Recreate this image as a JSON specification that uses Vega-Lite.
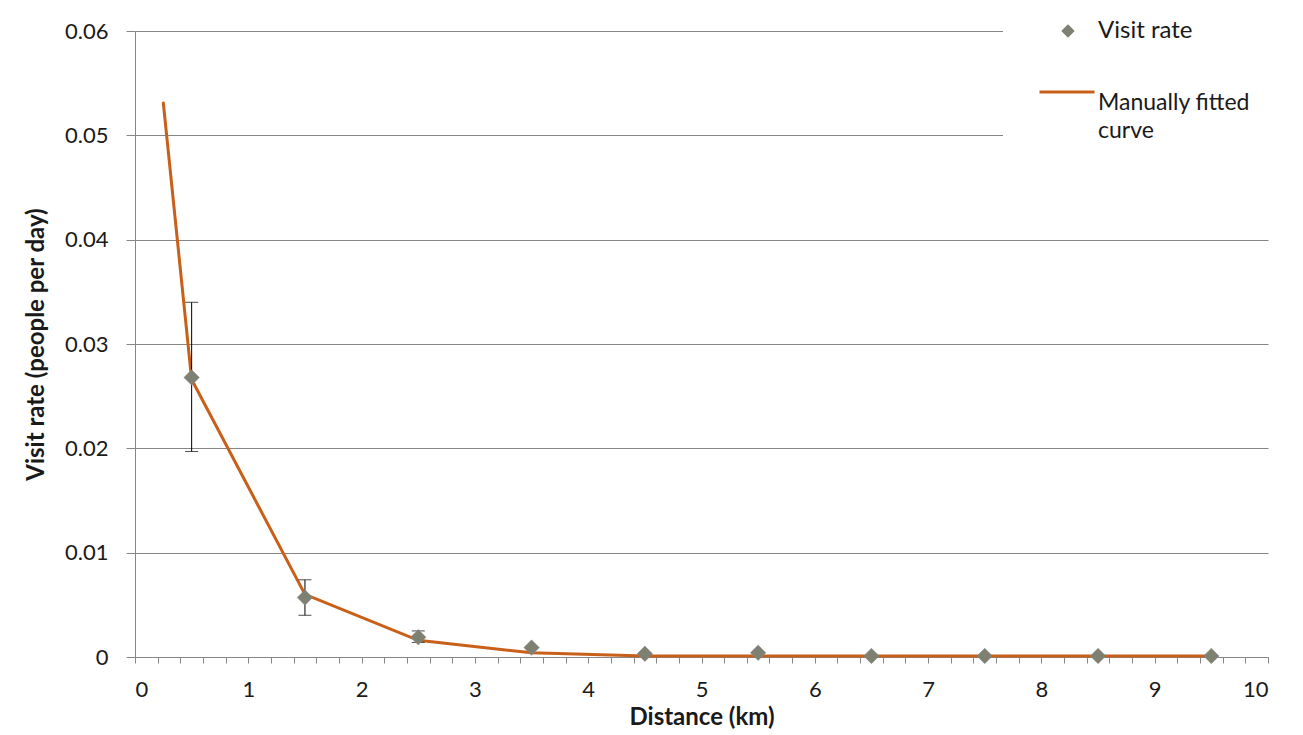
{
  "$schema": "https://vega.github.io/schema/vega-lite/v6.json",
  "width": 1133,
  "height": 626,
  "autosize": {"type": "none"},
  "padding": {"left": 135, "top": 31, "right": 35, "bottom": 78},
  "background": "white",
  "config": {
    "view": {"stroke": null},
    "font": "Lato",
    "style": {"guide-label": {"lineHeight": 28}},
    "axis": {
      "domainColor": "#868686",
      "tickColor": "#868686",
      "gridColor": "#868686",
      "labelColor": "#1a1a1a",
      "titleColor": "#1a1a1a",
      "labelFont": "Lato",
      "titleFont": "Lato",
      "labelFontSize": 22,
      "titleFontSize": 24,
      "titleFontWeight": "bold"
    }
  },
  "datasets": {
    "visits": [
      {"distance": 0.5, "rate": 0.0268, "lo": 0.0197, "hi": 0.0340},
      {"distance": 1.5, "rate": 0.0057, "lo": 0.0040, "hi": 0.0074},
      {"distance": 2.5, "rate": 0.0019, "lo": 0.0014, "hi": 0.0025},
      {"distance": 3.5, "rate": 0.0009, "lo": 0.0009, "hi": 0.0009},
      {"distance": 4.5, "rate": 0.0003, "lo": 0.0003, "hi": 0.0003},
      {"distance": 5.5, "rate": 0.0004, "lo": 0.0004, "hi": 0.0004},
      {"distance": 6.5, "rate": 0.0001, "lo": 0.0001, "hi": 0.0001},
      {"distance": 7.5, "rate": 0.0001, "lo": 0.0001, "hi": 0.0001},
      {"distance": 8.5, "rate": 0.0001, "lo": 0.0001, "hi": 0.0001},
      {"distance": 9.5, "rate": 0.0001, "lo": 0.0001, "hi": 0.0001}
    ],
    "curve": [
      {"distance": 0.25, "fit": 0.0531},
      {"distance": 0.5, "fit": 0.0266},
      {"distance": 1.5, "fit": 0.0060},
      {"distance": 2.5, "fit": 0.0016},
      {"distance": 3.5, "fit": 0.0004},
      {"distance": 4.5, "fit": 0.0001},
      {"distance": 5.5, "fit": 0.0001},
      {"distance": 6.5, "fit": 0.0001},
      {"distance": 7.5, "fit": 0.0001},
      {"distance": 8.5, "fit": 0.0001},
      {"distance": 9.5, "fit": 0.0001}
    ]
  },
  "layer": [
    {
      "data": {"name": "curve"},
      "mark": {"type": "line", "strokeWidth": 3, "strokeCap": "round"},
      "encoding": {
        "x": {
          "field": "distance",
          "type": "quantitative",
          "scale": {"domain": [0, 10], "nice": false, "zero": false},
          "axis": {
            "title": "Distance (km)",
            "values": [0,0.2,0.4,0.6,0.8,1,1.2,1.4,1.6,1.8,2,2.2,2.4,2.6,2.8,3,3.2,3.4,3.6,3.8,4,4.2,4.4,4.6,4.8,5,5.2,5.4,5.6,5.8,6,6.2,6.4,6.6,6.8,7,7.2,7.4,7.6,7.8,8,8.2,8.4,8.6,8.8,9,9.2,9.4,9.6,9.8,10],
            "tickCount": 60,
            "labelExpr": "abs(datum.value - round(datum.value)) < 0.001 ? format(datum.value, 'd') : ''",
            "labelOverlap": false,
            "grid": false,
            "tickSize": 6,
            "labelPadding": 16,
            "titlePadding": 5
          }
        },
        "y": {
          "field": "fit",
          "type": "quantitative",
          "scale": {"domain": [0, 0.06], "nice": false},
          "axis": {
            "title": "Visit rate (people per day)",
            "values": [0, 0.01, 0.02, 0.03, 0.04, 0.05, 0.06],
            "format": ".2~f",
            "grid": true,
            "tickSize": 9,
            "labelPadding": 18,
            "titlePadding": 16
          }
        },
        "stroke": {
          "datum": "Manually fitted curve",
          "type": "nominal",
          "scale": {"range": ["#C8601A"]},
          "legend": {
            "title": null,
            "orient": "none",
            "legendX": 868,
            "legendY": -3,
            "padding": 35,
            "fillColor": "white",
            "symbolType": "stroke",
            "symbolSize": 3025,
            "symbolStrokeWidth": 3,
            "labelFontSize": 23,
            "labelFont": "Lato",
            "labelColor": "#1a1a1a",
            "labelBaseline": "top",
            "labelOffset": 2,
            "labelLimit": 400,
            "labelExpr": "['Manually fitted      ', 'curve']"
          }
        }
      }
    },
    {
      "data": {"name": "visits"},
      "mark": {"type": "rule", "color": "black", "strokeWidth": 1},
      "encoding": {
        "x": {"field": "distance", "type": "quantitative"},
        "y": {"field": "lo", "type": "quantitative"},
        "y2": {"field": "hi"}
      }
    },
    {
      "data": {"name": "visits"},
      "mark": {"type": "tick", "orient": "horizontal", "color": "black", "size": 13, "thickness": 1},
      "encoding": {
        "x": {"field": "distance", "type": "quantitative"},
        "y": {"field": "lo", "type": "quantitative"}
      }
    },
    {
      "data": {"name": "visits"},
      "mark": {"type": "tick", "orient": "horizontal", "color": "black", "size": 13, "thickness": 1},
      "encoding": {
        "x": {"field": "distance", "type": "quantitative"},
        "y": {"field": "hi", "type": "quantitative"}
      }
    },
    {
      "data": {"name": "visits"},
      "mark": {"type": "point", "shape": "diamond", "filled": true, "size": 240, "opacity": 1, "stroke": "#8a8a8a", "strokeWidth": 0.5},
      "encoding": {
        "x": {"field": "distance", "type": "quantitative"},
        "y": {"field": "rate", "type": "quantitative"},
        "fill": {
          "datum": "Visit rate",
          "type": "nominal",
          "scale": {"range": ["#7e8171"]},
          "legend": {
            "title": null,
            "orient": "none",
            "legendX": 921,
            "legendY": -12,
            "padding": 0,
            "symbolType": "diamond",
            "symbolSize": 180,
            "symbolStrokeWidth": 0,
            "labelFontSize": 24,
            "labelFont": "Lato",
            "labelColor": "#1a1a1a",
            "labelOffset": 18,
            "labelLimit": 300
          }
        }
      }
    }
  ]
}
